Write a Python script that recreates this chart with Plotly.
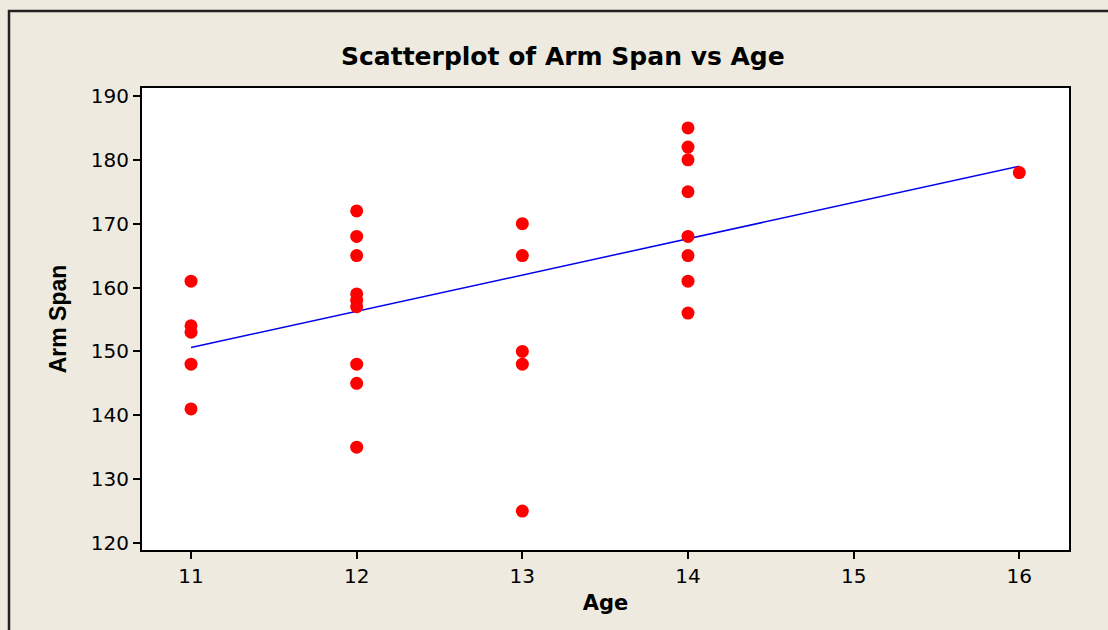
import plotly.graph_objects as go

age_11 = [161, 154, 153, 148, 141]
age_12 = [172, 168, 165, 159, 158, 157, 148, 145, 135]
age_13 = [170, 165, 150, 148, 125]
age_14 = [185, 182, 180, 175, 168, 165, 161, 156]
age_16 = [178]

ages = [11] * len(age_11) + [12] * len(age_12) + [13] * len(age_13) + [14] * len(age_14) + [16] * len(age_16)
arm_span = age_11 + age_12 + age_13 + age_14 + age_16

fit_x = [11, 16]
fit_y = [150.6, 179.0]

x_ticks = [11, 12, 13, 14, 15, 16]
y_ticks = [120, 130, 140, 150, 160, 170, 180, 190]

W, H = 1108, 630
L, R, T, B = 142, 1069, 88, 550

fig = go.Figure()
fig.add_trace(go.Scatter(x=fit_x, y=fit_y, mode="lines",
                         line=dict(color="#0000EE", width=1.5), hoverinfo="skip"))
fig.add_trace(go.Scatter(x=ages, y=arm_span, mode="markers",
                         marker=dict(color="#FF0000", size=13, line=dict(width=0))))

def px_x(p):
    return (p - L) / (R - L)

def px_y(p):
    return (B - p) / (B - T)

fig.add_shape(type="rect", xref="paper", yref="paper",
              x0=px_x(9), x1=px_x(1130), y0=px_y(660), y1=px_y(11),
              line=dict(color="#222222", width=2.5), fillcolor="rgba(0,0,0,0)", layer="below")

fig.update_layout(
    width=W, height=H,
    margin=dict(l=L, r=W - R, t=T, b=H - B),
    paper_bgcolor="#EEEAE0",
    plot_bgcolor="#FFFFFF",
    showlegend=False,
    title=dict(text="<b>Scatterplot of Arm Span vs Age</b>", x=0.508, xanchor="center",
               y=1 - 56 / H, yanchor="middle",
               font=dict(family="DejaVu Sans", size=25, color="#000000")),
    font=dict(family="DejaVu Sans", color="#000000"),
)
fig.update_xaxes(range=[10.704, 16.30], tickvals=x_ticks, ticks="outside", ticklen=7,
                 tickwidth=1.5, tickcolor="#000000", showline=True, linecolor="#000000",
                 linewidth=2, mirror=True, showgrid=False, zeroline=False,
                 tickfont=dict(family="DejaVu Sans", size=20),
                 title=dict(text="<b>Age</b>", font=dict(family="DejaVu Sans", size=21), standoff=8))
fig.update_yaxes(range=[118.9, 191.25], tickvals=y_ticks, ticks="outside", ticklen=7,
                 tickwidth=1.5, tickcolor="#000000", showline=True, linecolor="#000000",
                 linewidth=2, mirror=True, showgrid=False, zeroline=False,
                 tickfont=dict(family="DejaVu Sans", size=20),
                 title=dict(text="<b>Arm Span</b>", font=dict(family="Liberation Sans Narrow, Liberation Sans", size=23), standoff=18))

fig.write_html("out.html", config={"displayModeBar": False},
               post_script="document.body.style.margin='0';document.body.style.overflow='hidden';")
